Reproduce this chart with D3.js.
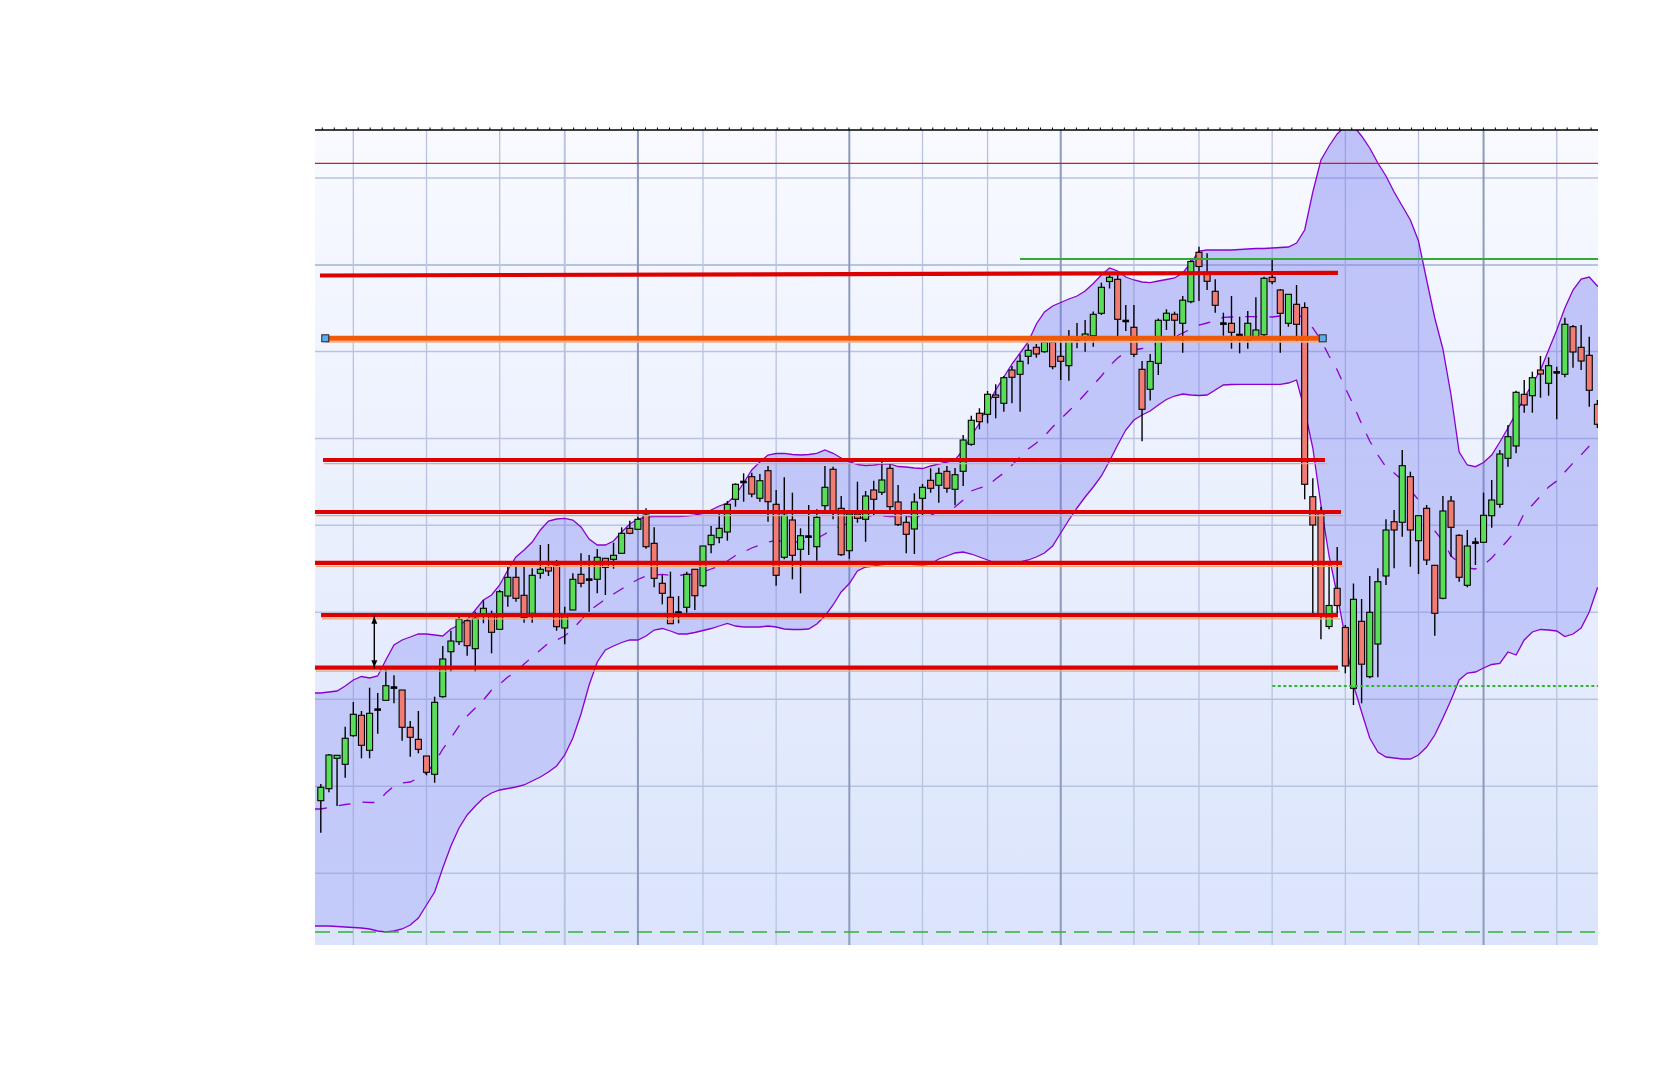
<!DOCTYPE html>
<html><head><meta charset="utf-8">
<script src="https://cdn.jsdelivr.net/npm/d3@7"></script>
<style>body{margin:0;background:#fff}svg{display:block}</style>
</head><body>
<svg id="c" width="1669" height="1074"></svg>
<script>
// ---- candle data (index = trading session) ----
const opens=[19.93,21.13,24.17,23.57,26.43,28.47,24.97,29.03,29.97,31.23,31.00,27.27,26.07,24.40,22.57,30.33,34.83,35.83,37.93,35.13,38.57,38.50,37.07,40.40,42.27,40.47,38.67,42.67,43.33,43.40,37.20,39.00,42.57,42.03,42.07,44.17,44.07,44.67,47.17,47.07,48.50,45.67,41.67,40.27,38.73,39.27,43.07,41.43,45.53,46.23,46.80,50.07,51.80,52.33,50.17,52.93,49.57,44.27,48.00,45.07,46.33,45.33,49.43,53.07,49.17,44.93,48.60,48.07,51.00,50.77,53.17,49.80,47.77,47.10,50.17,51.97,51.47,52.87,51.07,52.87,55.57,58.67,58.57,60.50,59.67,63.00,62.57,64.37,65.27,64.83,65.77,64.37,63.43,66.00,66.13,66.43,68.67,71.85,72.07,67.90,67.27,63.07,61.07,63.67,67.98,68.58,67.67,69.83,74.77,72.77,70.87,67.63,67.67,66.50,66.00,66.33,66.53,72.27,71.00,67.67,69.57,69.25,50.33,48.70,37.35,41.17,37.25,31.17,37.87,32.33,35.60,42.40,47.83,47.77,52.33,45.93,49.17,43.47,40.17,49.90,46.47,41.47,45.73,45.77,48.43,49.57,54.17,55.40,60.57,60.43,63.00,61.67,62.77,62.57,67.33,65.27,64.47,59.57];
const highs=[21.60,24.60,24.50,27.33,29.80,28.90,31.23,30.70,33.00,32.47,31.00,27.90,28.90,24.40,30.33,35.40,36.93,38.33,38.07,38.83,40.00,38.93,41.00,43.33,43.33,43.33,43.17,45.50,45.60,44.00,39.33,42.67,44.67,44.50,45.10,44.17,45.73,47.27,47.93,48.33,49.17,47.27,42.50,42.83,40.40,42.83,43.07,45.40,47.40,48.57,49.90,51.67,52.67,52.73,52.60,53.40,51.00,52.27,50.73,47.17,49.50,49.07,53.40,53.33,50.40,48.60,51.83,50.90,51.93,53.83,53.67,51.50,48.40,50.67,51.60,53.17,53.23,53.40,53.20,56.50,58.43,59.17,60.90,61.57,62.40,63.40,64.57,65.57,65.60,65.93,65.77,66.33,67.00,67.70,68.00,68.85,71.73,72.67,72.50,69.50,69.50,63.90,64.60,68.15,69.07,68.83,70.40,74.07,75.33,74.67,72.07,68.73,70.40,68.33,68.90,70.27,72.33,74.07,71.10,70.57,71.50,69.77,52.17,49.33,43.50,45.30,37.50,41.65,40.10,42.40,43.17,48.07,49.00,55.00,52.83,48.43,49.50,43.47,50.40,50.40,46.57,47.00,46.23,50.73,52.00,55.00,57.50,60.93,62.00,62.83,64.40,64.27,63.33,68.23,67.50,67.50,66.33,60.00];
const lows=[16.73,20.77,19.40,22.23,26.33,24.17,24.17,26.63,29.97,29.67,25.93,24.33,24.67,22.47,21.73,30.23,32.83,35.50,34.43,32.83,37.67,34.67,37.07,39.33,39.83,37.73,37.73,42.13,42.40,36.93,35.57,39.00,41.27,38.83,40.67,40.50,43.13,44.67,46.57,47.07,45.13,41.27,39.57,37.63,37.67,38.73,39.00,41.27,44.67,45.67,45.93,49.33,49.83,50.27,49.83,47.83,41.43,44.07,42.07,40.67,44.50,43.93,48.93,48.07,44.40,44.13,47.73,45.83,48.47,50.50,49.00,47.40,44.67,44.60,48.50,50.73,49.73,50.73,49.47,51.40,55.43,57.07,57.67,58.17,58.83,59.67,58.83,63.57,64.23,64.73,63.07,62.00,61.93,65.17,64.83,65.33,68.50,71.15,66.35,66.90,64.30,55.87,59.95,62.50,67.00,66.33,64.73,69.67,69.90,71.00,68.73,66.43,65.13,64.67,65.13,66.00,66.33,71.57,64.73,67.33,65.83,50.07,38.67,36.07,37.07,38.33,32.67,29.50,29.67,32.17,32.27,41.50,43.17,46.33,43.33,42.60,43.50,36.43,40.07,44.33,41.83,41.27,43.50,45.77,47.23,49.23,53.33,54.67,58.73,58.73,60.23,60.43,58.07,62.27,63.23,63.00,59.33,57.20];
const closes=[21.27,24.50,24.47,26.17,28.57,25.47,28.67,29.03,31.43,31.23,27.27,26.27,25.07,22.77,29.77,34.10,35.90,38.07,35.43,38.17,39.17,36.77,40.83,42.27,40.17,38.27,42.47,43.07,42.90,37.33,38.33,42.07,41.67,42.03,44.27,43.27,44.47,46.67,46.67,48.07,45.33,42.17,40.67,37.63,38.73,42.57,40.43,45.40,46.47,47.17,49.57,51.57,51.80,50.60,51.93,49.83,42.47,48.47,44.47,46.43,46.33,48.27,51.27,48.93,44.53,48.60,48.17,50.40,50.07,52.00,49.33,47.53,46.57,49.80,51.27,51.17,52.67,51.17,52.53,56.00,57.97,57.83,60.57,60.27,62.23,62.27,63.87,64.97,64.60,65.77,63.33,63.87,66.33,66.00,66.60,68.57,71.27,72.27,68.07,67.90,64.57,59.07,63.85,67.97,68.68,67.98,69.98,73.85,73.35,71.87,69.47,67.63,66.77,66.50,67.67,67.00,72.17,71.83,68.67,70.57,67.57,51.57,47.50,38.60,39.45,39.45,33.40,40.07,33.58,38.77,41.83,47.00,47.00,53.43,47.00,48.43,44.00,38.67,48.90,47.27,42.27,45.40,45.73,48.47,50.00,54.60,56.33,60.77,59.50,62.23,62.60,63.43,62.77,67.57,64.80,63.90,60.97,57.57];

// ---- Bollinger band values ----
const bbUpper=[30.7,30.8,30.9,31.4,32.0,32.35,32.2,32.4,34.0,35.5,36.0,36.3,36.6,36.6,36.5,36.4,37.1,37.5,38.0,39.0,40.0,40.5,41.5,43.0,44.3,45.0,45.8,47.0,47.9,48.1,48.17,48.0,47.3,46.1,45.5,45.5,45.9,46.8,47.6,48.1,48.3,48.33,48.33,48.33,48.35,48.4,48.5,48.67,49.0,49.4,49.7,50.5,51.7,53.0,53.8,54.5,54.65,54.67,54.55,54.5,54.55,54.67,55.0,54.67,54.2,53.83,53.55,53.45,53.5,53.6,53.6,53.35,53.3,53.2,53.15,53.4,53.6,53.8,54.0,55.0,56.4,57.7,59.5,61.0,62.3,63.6,64.7,65.8,67.6,68.8,69.4,69.75,70.1,70.4,70.9,71.65,72.5,73.2,72.9,72.3,72.0,71.8,71.73,71.9,72.05,72.2,72.7,73.7,74.9,75.0,75.0,75.0,75.0,75.05,75.1,75.15,75.15,75.2,75.25,75.3,75.7,77.0,80.8,84.0,85.4,86.6,87.4,87.4,86.4,85.2,83.7,82.4,80.8,79.4,78.0,75.9,72.0,68.2,65.1,60.5,54.8,53.5,53.33,53.75,54.5,55.8,57.2,58.7,60.2,61.6,63.0,65.0,67.0,69.2,71.0,72.1,72.3,71.4];
const bbLower=[7.4,7.4,7.35,7.3,7.25,7.2,7.1,6.9,6.8,6.9,7.1,7.5,8.2,9.5,10.8,13.2,15.4,17.2,18.5,19.4,20.2,20.7,21.0,21.15,21.3,21.5,21.9,22.3,22.8,23.4,24.5,26.2,28.6,31.5,33.8,35.0,35.4,35.75,36.0,36.0,36.4,37.0,37.15,36.9,36.6,36.6,36.75,36.95,37.15,37.4,37.65,37.4,37.3,37.3,37.3,37.4,37.3,37.1,37.05,37.05,37.1,37.6,38.4,39.5,40.8,41.65,42.9,43.3,43.4,43.55,43.6,43.6,43.6,43.55,43.5,43.6,44.1,44.4,44.7,44.8,44.6,44.3,44.0,43.7,43.6,43.7,43.8,44.0,44.3,44.7,45.4,46.7,48.0,49.2,50.3,51.3,52.4,53.9,55.5,57.0,58.0,58.5,58.9,59.5,60.05,60.4,60.6,60.5,60.45,60.5,61.0,61.5,61.55,61.57,61.57,61.57,61.57,61.57,61.57,61.7,62.0,59.0,55.2,49.5,44.4,40.5,36.2,31.5,28.8,26.2,24.8,24.3,24.2,24.1,24.1,24.5,25.3,26.5,28.2,30.0,32.0,32.7,32.8,33.2,33.55,33.67,34.8,34.5,36.0,36.8,37.05,37.0,36.9,36.35,36.6,37.2,38.8,41.2];
const bbMiddle=[19.1,19.25,19.4,19.55,19.65,19.8,19.75,19.75,20.7,21.4,21.7,21.8,22.2,22.7,23.7,25.1,26.2,27.4,28.4,29.2,30.0,31.0,31.6,32.3,32.8,33.6,34.3,35.0,35.7,36.0,36.4,37.1,38.0,38.9,39.5,40.1,40.6,41.1,41.6,42.05,42.4,42.5,42.57,42.45,42.45,42.57,42.57,42.8,43.1,43.4,43.9,44.45,44.8,45.2,45.5,45.8,45.95,45.85,45.8,45.8,45.9,46.15,46.6,47.1,47.4,47.73,48.05,48.35,48.45,48.4,48.35,48.33,48.33,48.33,48.33,48.5,48.8,49.0,49.3,50.0,50.9,51.2,51.4,52.1,52.7,53.5,54.3,55.1,55.7,56.4,57.3,58.1,58.9,59.7,60.6,61.5,62.4,63.4,64.2,64.8,65.0,65.15,65.4,65.7,66.0,66.3,66.7,67.1,67.5,67.7,67.9,68.27,68.3,68.33,68.33,68.33,68.33,68.3,68.4,68.57,68.52,68.2,67.2,66.0,64.4,63.0,61.2,59.5,57.6,55.9,54.5,53.3,52.7,52.0,51.0,50.0,48.4,46.9,45.9,44.4,43.7,43.2,43.1,43.5,44.2,45.1,46.0,47.0,48.7,49.5,50.4,51.3,51.9,52.8,53.7,54.5,55.4,56.2];

// ---- grid and drawn levels ----
const gridValues=[82.2,73.5,64.85,56.15,47.47,38.77,30.07,21.37,12.67];
const gridIndex=[4,13,22,30,39,47,56,65,74,82,91,100,108,117,126,135,143,152];
const majorGridIndex=[39,65,91,143];
const redLevels=[{v:54.0,a:0.27,b:123.5},{v:48.8,a:-0.72,b:125.47},{v:43.72,a:-0.72,b:125.6},{v:38.48,a:0.03,b:125.1},{v:33.24,a:-0.72,b:125.1}];
const topTrend={v0:72.45,v1:72.72,a:-0.1,b:125.1};
const orangeLevel={v:66.17,a:0.55,b:123.22};
const thinRedLevel=83.67;
const greenLevel={v:74.1,a:85.99};
const greenDotted={v:31.4,a:117.02};
const greenDashed=6.8;
const arrowSpan={i:6.58,v0:38.43,v1:33.17};
const tickStep=1.4721, tickStart=0.185;

const svg=d3.select('#c');
const P={x0:315,x1:1598,y0:130,y1:945};
const x=d3.scaleLinear().domain([0,157]).range([320.8,1597.4]);
const y=d3.scaleLinear().domain([5.5,87]).range([945,130]);
const iMin=x.invert(P.x0), iMax=x.invert(P.x1);

const defs=svg.append('defs');
defs.append('clipPath').attr('id','clip').append('rect').attr('x',P.x0).attr('y',P.y0).attr('width',P.x1-P.x0).attr('height',P.y1-P.y0);
const bg=defs.append('linearGradient').attr('id','bg').attr('gradientUnits','userSpaceOnUse').attr('x1',0).attr('x2',0).attr('y1',P.y0).attr('y2',P.y1);
bg.append('stop').attr('offset',0).attr('stop-color','#f8faff');
bg.append('stop').attr('offset',1).attr('stop-color','#dbe4fc');
const bf=defs.append('linearGradient').attr('id','bandFill').attr('gradientUnits','userSpaceOnUse').attr('x1',0).attr('x2',0).attr('y1',P.y0).attr('y2',P.y1);
bf.append('stop').attr('offset',0).attr('stop-color','#6e73f0').attr('stop-opacity',0.42);
bf.append('stop').attr('offset',1).attr('stop-color','#6e73f0').attr('stop-opacity',0.22);

svg.append('rect').attr('x',P.x0).attr('y',P.y0).attr('width',P.x1-P.x0).attr('height',P.y1-P.y0).attr('fill','url(#bg)');
const g=svg.append('g').attr('clip-path','url(#clip)');

// grid
g.selectAll('line.hg').data(gridValues).join('line').attr('class','hg')
 .attr('x1',P.x0).attr('x2',P.x1).attr('y1',d=>y(d)).attr('y2',d=>y(d))
 .attr('stroke','#b8c3df').attr('stroke-width',(d,i)=>i===1?2.2:1.5);
g.selectAll('line.vg').data(gridIndex).join('line').attr('class','vg')
 .attr('x1',d=>x(d)).attr('x2',d=>x(d)).attr('y1',P.y0).attr('y2',P.y1)
 .attr('stroke',d=>majorGridIndex.includes(d)?'#8e9aba':'#b8c3df')
 .attr('stroke-width',d=>majorGridIndex.includes(d)?2:(d===30?2:1.3));

// band (first/last values carried to the plot edges)
const idx=d3.range(bbUpper.length);
const pts=[iMin,...idx,iMax];
const at=(arr,k)=>k<0?arr[0]:(k>=arr.length?arr[arr.length-1]:arr[k]);
const bandPts=pts.map((p,j)=>({p,u:at(bbUpper,j-1),l:at(bbLower,j-1),m:at(bbMiddle,j-1)}));
g.append('path').datum(bandPts).attr('d',d3.area().x(d=>x(d.p)).y0(d=>y(d.l)).y1(d=>y(d.u)))
 .attr('fill','url(#bandFill)');
const ln=k=>d3.line().x(d=>x(d.p)).y(d=>y(d[k]));
g.append('path').datum(bandPts).attr('d',ln('u')).attr('fill','none').attr('stroke','#8a00d0').attr('stroke-width',1.3);
g.append('path').datum(bandPts).attr('d',ln('l')).attr('fill','none').attr('stroke','#8a00d0').attr('stroke-width',1.3);
g.append('path').datum(bandPts).attr('d',ln('m')).attr('fill','none').attr('stroke','#8a00d0').attr('stroke-width',1.3).attr('stroke-dasharray','12,12');

// candles
const cg=g.append('g');
idx.forEach(i=>{
  const o=opens[i],c=closes[i],h=highs[i],l=lows[i];
  const cx=x(i);
  cg.append('line').attr('x1',cx).attr('x2',cx).attr('y1',y(h)).attr('y2',y(l)).attr('stroke','#000').attr('stroke-width',1.4);
  const top=y(Math.max(o,c)), bot=y(Math.min(o,c));
  const doji=Math.abs(o-c)<0.01;
  cg.append('rect').attr('x',cx-3).attr('width',6)
    .attr('y',doji?top-1:top).attr('height',doji?2:Math.max(bot-top,1))
    .attr('fill',doji?'#000':(c>o?'#5ade5a':'#f07c74'))
    .attr('stroke','#000').attr('stroke-width',doji?0.6:1.1);
});

// levels
const lg=g.append('g');
lg.append('line').attr('x1',P.x0).attr('x2',P.x1).attr('y1',y(thinRedLevel)).attr('y2',y(thinRedLevel)).attr('stroke','#dd1515').attr('stroke-width',1.2);
lg.append('line').attr('x1',x(greenLevel.a)).attr('x2',P.x1).attr('y1',y(greenLevel.v)).attr('y2',y(greenLevel.v)).attr('stroke','#33aa33').attr('stroke-width',2);
lg.append('line').attr('x1',x(greenDotted.a)).attr('x2',P.x1).attr('y1',y(greenDotted.v)).attr('y2',y(greenDotted.v)).attr('stroke','#2fb82f').attr('stroke-width',2).attr('stroke-dasharray','3,2.5');
lg.append('line').attr('x1',P.x0).attr('x2',P.x1).attr('y1',y(greenDashed)).attr('y2',y(greenDashed)).attr('stroke','#35b035').attr('stroke-width',1.4).attr('stroke-dasharray','15,8');
lg.append('line').attr('x1',x(topTrend.a)).attr('x2',x(topTrend.b)).attr('y1',y(topTrend.v0)).attr('y2',y(topTrend.v1)).attr('stroke','#dd0000').attr('stroke-width',4.2);
redLevels.forEach(L=>{
  lg.append('line').attr('x1',x(L.a)+1).attr('x2',x(L.b)+2).attr('y1',y(L.v)+3.6).attr('y2',y(L.v)+3.6).attr('stroke','#f3a46c').attr('stroke-width',1.3);
  lg.append('line').attr('x1',x(L.a)).attr('x2',x(L.b)).attr('y1',y(L.v)).attr('y2',y(L.v)).attr('stroke','#dd0000').attr('stroke-width',4.2);
});
lg.append('line').attr('x1',x(orangeLevel.a)).attr('x2',x(orangeLevel.b)).attr('y1',y(orangeLevel.v)+3.4).attr('y2',y(orangeLevel.v)+3.4).attr('stroke','#f2b088').attr('stroke-width',2);
lg.append('line').attr('x1',x(orangeLevel.a)).attr('x2',x(orangeLevel.b)).attr('y1',y(orangeLevel.v)).attr('y2',y(orangeLevel.v)).attr('stroke','#f05a06').attr('stroke-width',5);
[orangeLevel.a,orangeLevel.b].forEach(a=>{
  lg.append('rect').attr('x',x(a)-3.5).attr('y',y(orangeLevel.v)-3.5).attr('width',7).attr('height',7).attr('fill','#5aaef0').attr('stroke','#223').attr('stroke-width',1);
});
// arrow
const ax=x(arrowSpan.i), ay0=y(arrowSpan.v0), ay1=y(arrowSpan.v1);
lg.append('line').attr('x1',ax).attr('x2',ax).attr('y1',ay0).attr('y2',ay1).attr('stroke','#000').attr('stroke-width',1.4);
lg.append('path').attr('d',`M${ax},${ay0+1}L${ax-3},${ay0+8}L${ax+3},${ay0+8}Z`).attr('fill','#000');
lg.append('path').attr('d',`M${ax},${ay1-1}L${ax-3},${ay1-8}L${ax+3},${ay1-8}Z`).attr('fill','#000');

// top border with ticks
svg.append('line').attr('x1',P.x0).attr('x2',P.x1).attr('y1',P.y0).attr('y2',P.y0).attr('stroke','#000').attr('stroke-width',1.4);
const ticks=d3.range(tickStart,iMax,tickStep);
svg.selectAll('line.tk').data(ticks).join('line').attr('class','tk')
 .attr('x1',d=>x(d)).attr('x2',d=>x(d)).attr('y1',P.y0-2.5).attr('y2',P.y0).attr('stroke','#000').attr('stroke-width',1);
</script>
</body></html>
